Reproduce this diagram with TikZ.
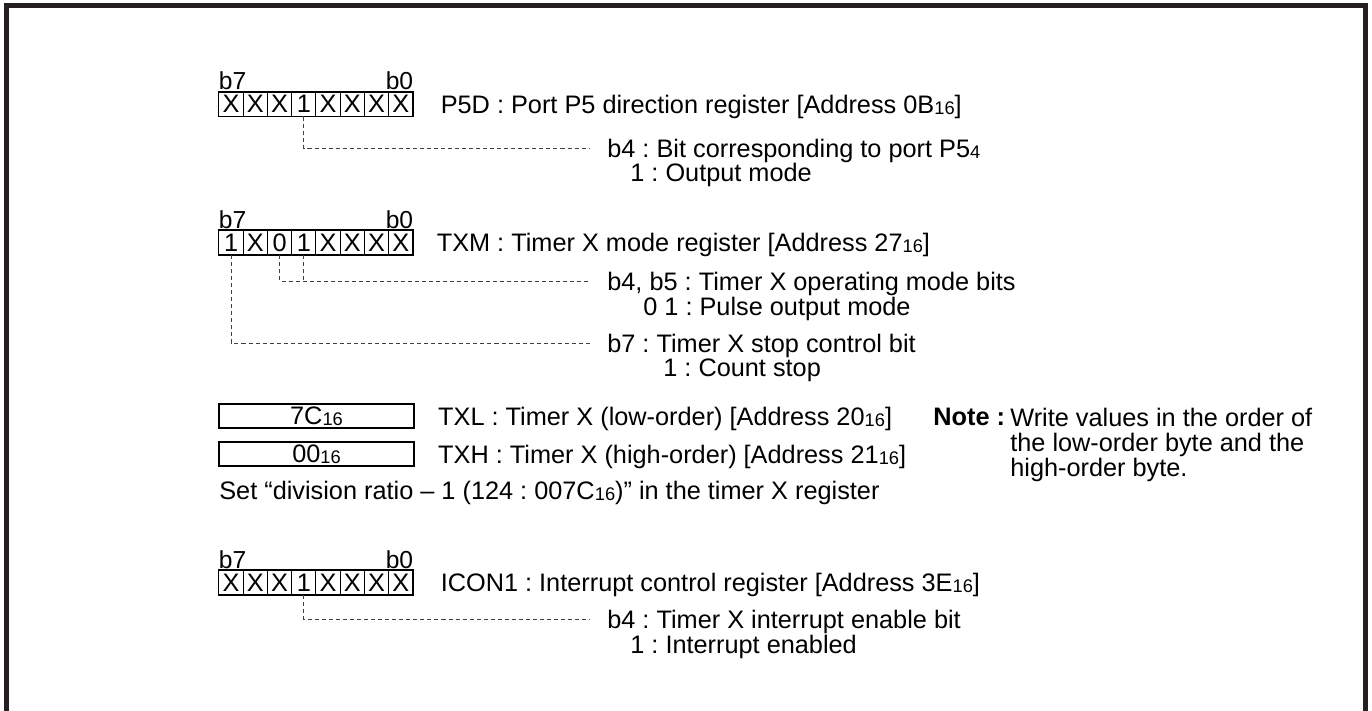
\documentclass[tikz,border=0pt]{standalone}
\usepackage{fontspec}
\setmainfont{Liberation Sans}
\usetikzlibrary{positioning}
\definecolor{framecol}{rgb}{0.14, 0.12, 0.13}
\definecolor{leadcol}{rgb}{0.25, 0.25, 0.25}
\newcommand{\hexsub}[1]{\raisebox{-0.7pt}{\fontsize{10.4}{11}\selectfont #1}}
\frenchspacing
\tikzset{
  txt/.style={anchor=west, inner sep=0pt, font=\fontsize{14.4}{16}\selectfont,
              text height=13.3pt, text depth=3pt},
  desc/.style={txt, inner xsep=0.34cm},
  bitnum/.style={inner sep=0pt, font=\fontsize{14}{16}\selectfont},
  bitcell/.style={draw, line width=0.55pt, minimum width=0.485cm,
                  minimum height=0.48cm, inner sep=0pt,
                  font=\fontsize{14.4}{16}\selectfont},
  regframe/.style={draw, line width=1pt},
  valbox/.style={draw, line width=1pt, minimum width=3.9cm,
                 minimum height=0.48cm, inner sep=0pt,
                 font=\fontsize{14.4}{16}\selectfont},
  notebody/.style={inner sep=0pt, align=left,
                   font=\fontsize{14.4}{14.2}\selectfont},
  leader/.style={draw=leadcol, line width=0.5pt,
                 dash pattern=on 2.3pt off 1.7pt},
}

\begin{document}
\begin{tikzpicture}[x=0.02cm, y=-0.02cm]
    \useasboundingbox (0,0) rectangle (1372,710);
    % frame
    \draw[framecol, line width=0.1cm] (6.5,712) -- (6.5,5.5) -- (1365.5,5.5) -- (1365.5,712);

    % P5D
    \foreach \v [count=\i from 0] in {X,X,X,1,X,X,X,X} {
      \pgfmathtruncatemacro\b{7-\i}
      \node[bitcell] (p5d-\b) at ({231.1+24.25*\i},104) {\v};
    }
    \draw[regframe] (p5d-7.north west) rectangle (p5d-0.south east);
    \node[bitnum, anchor=south west] at ([yshift=0.6pt]p5d-7.north west) {b7};
    \node[bitnum, anchor=south east] at ([yshift=0.6pt]p5d-0.north east) {b0};
    \node[txt, right=0.54cm of p5d-0] (p5d) {P5D : Port P5 direction register [Address 0B\hexsub{16}]};
    \node[desc] (p5dB4) at (590,148) {b4 : Bit corresponding to port P5\hexsub{4}};
    \node[txt] (p5dB4v) at (630,172) {1 : Output mode};
    \draw[leader] (p5d-4.south) |- (p5dB4.west);

    % TXM
    \foreach \v [count=\i from 0] in {1,X,0,1,X,X,X,X} {
      \pgfmathtruncatemacro\b{7-\i}
      \node[bitcell] (txm-\b) at ({231.1+24.25*\i},242.5) {\v};
    }
    \draw[regframe] (txm-7.north west) rectangle (txm-0.south east);
    \node[bitnum, anchor=south west] at ([yshift=0.6pt]txm-7.north west) {b7};
    \node[bitnum, anchor=south east] at ([yshift=0.6pt]txm-0.north east) {b0};
    \node[txt, right=0.46cm of txm-0] (txm) {TXM : Timer X mode register [Address 27\hexsub{16}]};
    \node[desc] (txmB45) at (590,281) {b4, b5 : Timer X operating mode bits};
    \node[txt] (txmB45v) at (643,306) {0 1 : Pulse output mode};
    \node[desc] (txmB7) at (590,343) {b7 : Timer X stop control bit};
    \node[txt] (txmB7v) at (663,367) {1 : Count stop};
    \draw[leader] (txm-5.south) |- (txmB45.west);
    \draw[leader] (txm-4.south) -- (txm-4.south |- txmB45.west);
    \draw[leader] (txm-7.south) |- (txmB7.west);

    % TXL / TXH
    \node[valbox] (txl) at (316.5,416) {7C\hexsub{16}};
    \node[txt, right=0.46cm of txl] (txlname) {TXL : Timer X (low-order) [Address 20\hexsub{16}]};
    \node[valbox] (txh) at (316.5,454) {00\hexsub{16}};
    \node[txt, right=0.46cm of txh] (txhname) {TXH : Timer X (high-order) [Address 21\hexsub{16}]};
    \node[txt] (setnote) at (219,490) {Set “division ratio – 1 (124 : 007C\hexsub{16})” in the timer X register};

    % note
    \node[txt, font=\fontsize{14.4}{16}\selectfont\bfseries] (notehd) at (933,416) {Note :};
    \node[notebody, anchor=north west] (note) at (1010,408) {Write values in the order of\\the low-order byte and the\\high-order byte.};

    % ICON1
    \foreach \v [count=\i from 0] in {X,X,X,1,X,X,X,X} {
      \pgfmathtruncatemacro\b{7-\i}
      \node[bitcell] (icon-\b) at ({231.1+24.25*\i},582.5) {\v};
    }
    \draw[regframe] (icon-7.north west) rectangle (icon-0.south east);
    \node[bitnum, anchor=south west] at ([yshift=0.6pt]icon-7.north west) {b7};
    \node[bitnum, anchor=south east] at ([yshift=0.6pt]icon-0.north east) {b0};
    \node[txt, right=0.54cm of icon-0] (icon) {ICON1 : Interrupt control register [Address 3E\hexsub{16}]};
    \node[desc] (iconB4) at (590,619) {b4 : Timer X interrupt enable bit};
    \node[txt] (iconB4v) at (630,644) {1 : Interrupt enabled};
    \draw[leader] (icon-4.south) |- (iconB4.west);
\end{tikzpicture}
\end{document}
